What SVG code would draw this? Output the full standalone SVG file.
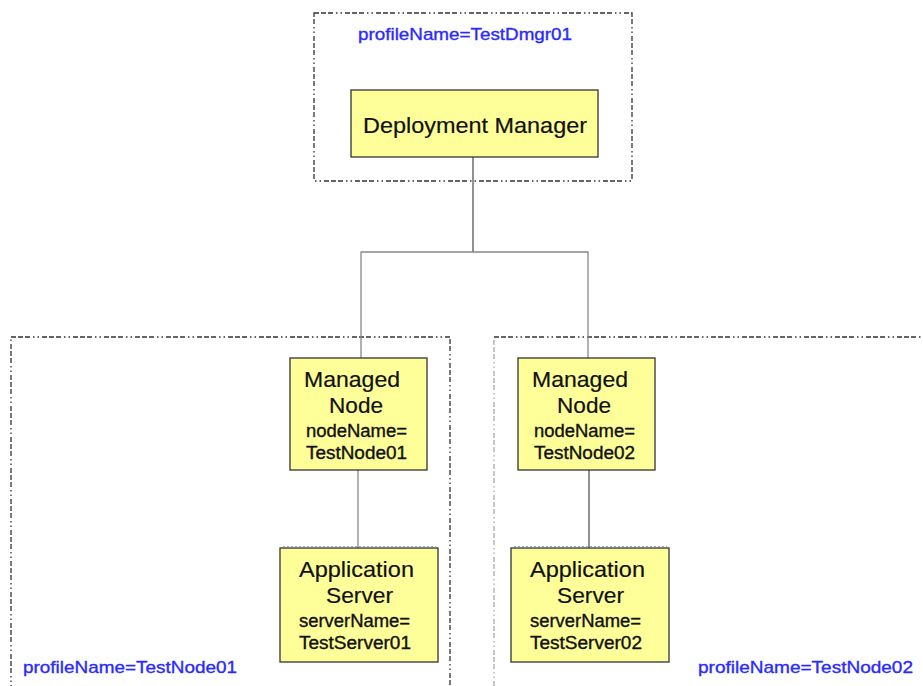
<svg xmlns="http://www.w3.org/2000/svg" width="923" height="686" viewBox="0 0 923 686">
  <style>
    .profile { fill: none; stroke: #333; stroke-width: 1.3; stroke-dasharray: 5 2 5 2 5 3 1.5 3 1.5 3; }
    .profile.faint { stroke: #aaa; }
    .box { fill: #ffff99; stroke: #333; stroke-width: 1.3; }
    .wire { fill: none; stroke: #555; stroke-width: 1.3; }
    .wire.light { stroke: #888; }
    .plabel { font-family: "Liberation Sans", Arial, sans-serif; font-size: 17px; fill: #2a2aff; stroke: #2a2aff; stroke-width: 0.35; }
    .title { font-family: "Liberation Sans", Arial, sans-serif; font-size: 22px; fill: #111; stroke: #111; stroke-width: 0.2; }
    .attr { font-family: "Liberation Sans", Arial, sans-serif; font-size: 17.5px; fill: #111; stroke: #111; stroke-width: 0.35; }
    .sel { fill: none; stroke: #9aa6e6; stroke-width: 1; stroke-dasharray: 2 2; }
  </style>
  <rect width="923" height="686" fill="#ffffff"/>

  <!-- profile containers -->
  <g id="profile-dmgr">
    <rect class="profile" x="314" y="13" width="318" height="168"/>
    <text class="plabel" x="358" y="40" textLength="214" lengthAdjust="spacingAndGlyphs">profileName=TestDmgr01</text>
  </g>
  <g id="profile-node01">
    <rect class="profile" x="11" y="337" width="439" height="380"/>
    <text class="plabel" x="23" y="673" textLength="214" lengthAdjust="spacingAndGlyphs">profileName=TestNode01</text>
  </g>
  <g id="profile-node02">
    <path class="profile faint" d="M494,700 V337"/>
    <path class="profile" d="M494,337 H940"/>
    <text class="plabel" x="698" y="673" textLength="215" lengthAdjust="spacingAndGlyphs">profileName=TestNode02</text>
  </g>

  <!-- connectors -->
  <g id="connectors">
    <path class="wire" d="M473,157 V252"/>
    <path class="wire light" d="M361,358 V252 H588 V358"/>
    <path class="wire light" d="M358,470 V548"/>
    <path class="wire" d="M589,470 V548"/>
  </g>

  <!-- nodes -->
  <g id="deployment-manager">
    <rect class="box" x="351" y="90" width="247" height="67"/>
    <text class="title" x="363" y="133" textLength="224" lengthAdjust="spacingAndGlyphs">Deployment Manager</text>
  </g>

  <g id="managed-node-01">
    <rect class="box" x="290" y="358" width="137" height="112"/>
    <text class="title" x="304" y="387" textLength="96" lengthAdjust="spacingAndGlyphs">Managed</text>
    <text class="title" x="329" y="413" textLength="54" lengthAdjust="spacingAndGlyphs">Node</text>
    <text class="attr" x="306" y="437" textLength="101" lengthAdjust="spacingAndGlyphs">nodeName=</text>
    <text class="attr" x="306" y="459" textLength="101" lengthAdjust="spacingAndGlyphs">TestNode01</text>
  </g>

  <g id="managed-node-02">
    <rect class="box" x="518" y="358" width="137" height="112"/>
    <text class="title" x="532" y="387" textLength="96" lengthAdjust="spacingAndGlyphs">Managed</text>
    <text class="title" x="557" y="413" textLength="54" lengthAdjust="spacingAndGlyphs">Node</text>
    <text class="attr" x="534" y="437" textLength="101" lengthAdjust="spacingAndGlyphs">nodeName=</text>
    <text class="attr" x="534" y="459" textLength="101" lengthAdjust="spacingAndGlyphs">TestNode02</text>
  </g>

  <g id="app-server-01">
    <path class="sel" d="M283,546.5 H436"/>
    <rect class="box" x="280" y="548" width="158" height="114"/>
    <text class="title" x="299" y="577" textLength="115" lengthAdjust="spacingAndGlyphs">Application</text>
    <text class="title" x="326" y="603" textLength="67" lengthAdjust="spacingAndGlyphs">Server</text>
    <text class="attr" x="299" y="627" textLength="111" lengthAdjust="spacingAndGlyphs">serverName=</text>
    <text class="attr" x="299" y="649" textLength="112" lengthAdjust="spacingAndGlyphs">TestServer01</text>
  </g>

  <g id="app-server-02">
    <path class="sel" d="M514,546.5 H667"/>
    <rect class="box" x="511" y="548" width="158" height="114"/>
    <text class="title" x="530" y="577" textLength="115" lengthAdjust="spacingAndGlyphs">Application</text>
    <text class="title" x="557" y="603" textLength="67" lengthAdjust="spacingAndGlyphs">Server</text>
    <text class="attr" x="530" y="627" textLength="111" lengthAdjust="spacingAndGlyphs">serverName=</text>
    <text class="attr" x="530" y="649" textLength="112" lengthAdjust="spacingAndGlyphs">TestServer02</text>
  </g>
</svg>
